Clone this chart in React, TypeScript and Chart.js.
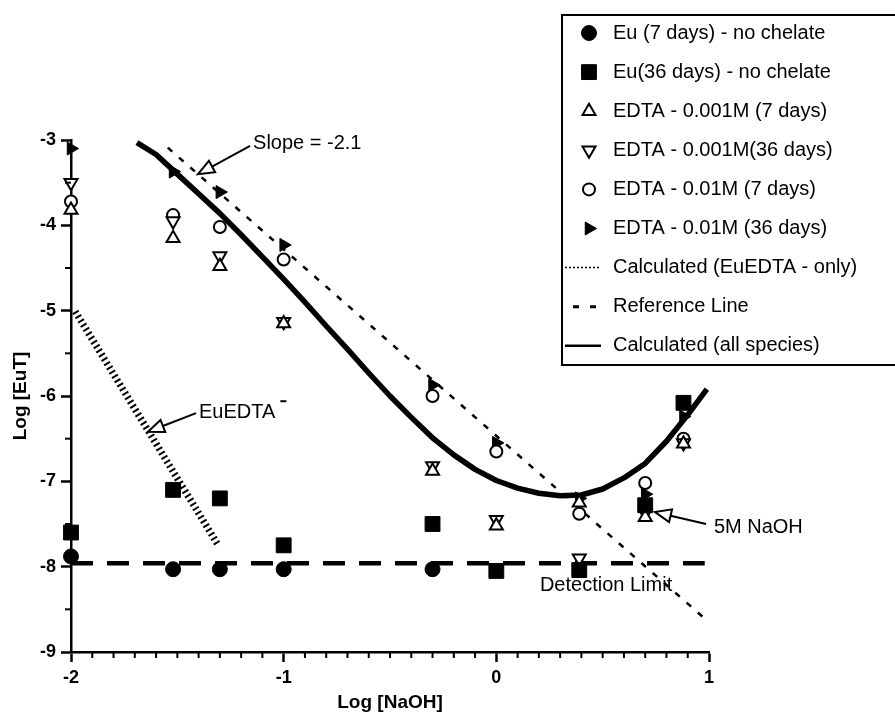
import React, { useEffect, useRef } from 'react';
import { Chart, registerables } from 'chart.js';
import { drawPoint } from 'chart.js/helpers';

Chart.register(...registerables);

const FONT = '"Liberation Sans", Arial, Helvetica, sans-serif';

// ---- axes ----
const xTicks = [-2, -1, 0, 1];
const yTicks = [-9, -8, -7, -6, -5, -4, -3];
const xTitle = 'Log [NaOH]';
const yTitle = 'Log [EuT]';

// ---- measured series (Log [NaOH] vs Log [EuT]) ----
const xNoChelate7 = [-2, -1.52, -1.3, -1, -0.3];
const euNoChelate7 = [-7.88, -8.03, -8.03, -8.03, -8.03];

const xMeasured = [-2, -1.52, -1.3, -1, -0.3, 0, 0.39, 0.7, 0.88];
const euNoChelate36 = [-7.6, -7.1, -7.2, -7.75, -7.5, -8.05, -8.04, -7.28, -6.08];
const edta001Day7 = [-3.82, -4.15, -4.48, -5.15, -6.88, -7.52, -7.25, -7.42, -6.56];
const edta001Day36 = [-3.5, -3.95, -4.36, -5.13, -6.82, -7.45, -7.9, -7.37, -6.55];
const edta01Day7 = [-3.72, -3.88, -4.02, -4.4, -6.0, -6.65, -7.38, -7.02, -6.5];
const edta01Day36 = [-3.1, -3.37, -3.61, -4.23, -5.87, -6.55, -7.2, -7.15, -6.24];

// ---- calculated / reference lines ----
const calcEuEdtaX = [-1.545, 0.99];
const calcEuEdtaY = [-3.09, -8.63];

const euEdtaMinusX = [-1.98, -1.31];
const euEdtaMinusY = [-5.01, -7.74];

const detectionX = [-2, 0.98];
const detectionY = [-7.96, -7.96];

const calcAllX = [-1.69, -1.6, -1.5, -1.4, -1.3, -1.2, -1.1, -1.0, -0.9, -0.8, -0.7, -0.6, -0.5, -0.4, -0.3, -0.2, -0.1, 0.0, 0.1, 0.2, 0.3, 0.4, 0.5, 0.6, 0.7, 0.8, 0.9, 0.99];
const calcAllY = [-3.03, -3.17, -3.4, -3.63, -3.86, -4.11, -4.37, -4.63, -4.9, -5.18, -5.45, -5.73, -6.0, -6.25, -6.49, -6.69, -6.86, -6.99, -7.08, -7.14, -7.17, -7.16, -7.09, -6.96, -6.79, -6.53, -6.22, -5.92];

// ---- legend ----
const legendLabels = [
  'Eu (7 days) - no chelate',
  'Eu(36 days) - no chelate',
  'EDTA - 0.001M (7 days)',
  'EDTA - 0.001M(36 days)',
  'EDTA - 0.01M (7 days)',
  'EDTA - 0.01M (36 days)',
  'Calculated (EuEDTA - only)',
  'Reference Line',
  'Calculated (all species)',
];

const pts = (xs: number[], ys: number[]) => xs.map((x, i) => ({ x, y: ys[i] }));

function marker(label: string, xs: number[], ys: number[], style: string, radius: number, rotation: number, filled: boolean, bw: number) {
  return {
    label,
    data: pts(xs, ys),
    showLine: false,
    clip: false,
    pointStyle: style,
    pointRadius: radius,
    pointHoverRadius: radius,
    pointRotation: rotation,
    pointBackgroundColor: filled ? '#000' : '#fff',
    pointBorderColor: '#000',
    pointBorderWidth: bw,
  };
}

function lineSet(label: string, xs: number[], ys: number[], width: number, dash: number[]) {
  return {
    label,
    data: pts(xs, ys),
    showLine: true,
    clip: false,
    pointRadius: 0,
    pointHoverRadius: 0,
    borderColor: '#000',
    borderWidth: width,
    borderDash: dash,
    borderCapStyle: 'butt',
    borderJoinStyle: 'round',
    tension: 0,
    fill: false,
  };
}

function drawArrow(ctx: CanvasRenderingContext2D, tx: number, ty: number, hx: number, hy: number) {
  const dx = hx - tx, dy = hy - ty;
  const len = Math.hypot(dx, dy);
  const ux = dx / len, uy = dy / len;
  const headLen = 16, halfW = 6.5;
  const bx = hx - ux * headLen, by = hy - uy * headLen;
  ctx.setLineDash([]);
  ctx.lineWidth = 2;
  ctx.strokeStyle = '#000';
  ctx.beginPath();
  ctx.moveTo(tx, ty);
  ctx.lineTo(bx, by);
  ctx.stroke();
  ctx.beginPath();
  ctx.moveTo(hx, hy);
  ctx.lineTo(bx - uy * halfW, by + ux * halfW);
  ctx.lineTo(bx + uy * halfW, by - ux * halfW);
  ctx.closePath();
  ctx.fillStyle = '#fff';
  ctx.fill();
  ctx.stroke();
}

const bgPlugin = {
  id: 'bg',
  beforeDraw(chart: any) {
    const ctx = chart.ctx;
    ctx.save();
    ctx.fillStyle = '#fff';
    ctx.fillRect(0, 0, chart.width, chart.height);
    ctx.restore();
  },
};

const decorPlugin = {
  id: 'decor',
  afterDraw(chart: any) {
    const ctx: CanvasRenderingContext2D = chart.ctx;
    const xs = chart.scales.x;
    const ys = chart.scales.y;
    const { left, bottom } = chart.chartArea;
    const X = (v: number) => xs.getPixelForValue(v);
    const Y = (v: number) => ys.getPixelForValue(v);
    ctx.save();

    // minor ticks
    ctx.strokeStyle = '#000';
    ctx.lineWidth = 2;
    ctx.setLineDash([]);
    for (let i = xTicks[0] * 10; i <= xTicks[xTicks.length - 1] * 10; i++) {
      if (i % 10 === 0) continue;
      const px = X(i / 10);
      ctx.beginPath();
      ctx.moveTo(px, bottom);
      ctx.lineTo(px, bottom + 6);
      ctx.stroke();
    }
    for (let k = 0; k < yTicks.length - 1; k++) {
      const py = Y(yTicks[k] + 0.5);
      ctx.beginPath();
      ctx.moveTo(left, py);
      ctx.lineTo(left - 6, py);
      ctx.stroke();
    }

    // annotations
    ctx.fillStyle = '#000';
    ctx.font = `20px ${FONT}`;
    ctx.textBaseline = 'middle';
    ctx.textAlign = 'left';
    ctx.fillText('Slope = -2.1', X(-1.144), Y(-3.035));
    drawArrow(ctx, X(-1.158), Y(-3.07), X(-1.403), Y(-3.4));

    ctx.fillStyle = '#000';
    ctx.fillText('EuEDTA', X(-1.398), Y(-6.19));
    const w = ctx.measureText('EuEDTA').width;
    ctx.fillRect(X(-1.398) + w + 5, Y(-6.19) - 12, 6, 2);
    drawArrow(ctx, X(-1.412), Y(-6.2), X(-1.638), Y(-6.42));

    ctx.fillStyle = '#000';
    ctx.fillText('5M NaOH', X(1.023), Y(-7.535));
    drawArrow(ctx, X(0.986), Y(-7.5), X(0.746), Y(-7.36));

    ctx.fillStyle = '#000';
    ctx.fillText('Detection Limit', X(0.205), Y(-8.22));

    // legend
    const lx = 562, ly = 15, lw = 340, lh = 350;
    ctx.setLineDash([]);
    ctx.lineWidth = 2;
    ctx.strokeStyle = '#000';
    ctx.strokeRect(lx, ly, lw, lh);
    const rowY0 = 33, rowH = 39.1;
    chart.data.datasets.forEach((ds: any, i: number) => {
      if (i >= legendLabels.length) return;
      const y = rowY0 + i * rowH;
      if (!ds.showLine) {
        ctx.fillStyle = ds.pointBackgroundColor;
        ctx.strokeStyle = ds.pointBorderColor;
        ctx.lineWidth = ds.pointBorderWidth;
        ctx.setLineDash([]);
        drawPoint(ctx, { pointStyle: ds.pointStyle, radius: ds.pointRadius, rotation: ds.pointRotation, borderWidth: ds.pointBorderWidth }, 589, y);
      } else {
        ctx.strokeStyle = '#000';
        if (i === 6) {
          ctx.lineWidth = 1.5;
          ctx.setLineDash([2, 2]);
          ctx.beginPath(); ctx.moveTo(565, y); ctx.lineTo(601, y); ctx.stroke();
        } else if (i === 7) {
          ctx.lineWidth = 3;
          ctx.setLineDash([6, 11]);
          ctx.beginPath(); ctx.moveTo(573, y); ctx.lineTo(600, y); ctx.stroke();
        } else {
          ctx.lineWidth = 2.5;
          ctx.setLineDash([]);
          ctx.beginPath(); ctx.moveTo(565, y); ctx.lineTo(601, y); ctx.stroke();
        }
      }
      ctx.setLineDash([]);
      ctx.fillStyle = '#000';
      ctx.font = `20px ${FONT}`;
      ctx.textAlign = 'left';
      ctx.textBaseline = 'middle';
      ctx.fillText(legendLabels[i], 613, y);
    });
    ctx.restore();
  },
};

export default function App() {
  const ref = useRef<HTMLCanvasElement>(null);
  useEffect(() => {
    const canvas = ref.current;
    if (!canvas) return;
    const datasets: any[] = [
      marker(legendLabels[0], xNoChelate7, euNoChelate7, 'circle', 7.5, 0, true, 1),
      marker(legendLabels[1], xMeasured, euNoChelate36, 'rect', 10.5, 0, true, 1),
      marker(legendLabels[2], xMeasured, edta001Day7, 'triangle', 7.5, 0, false, 2),
      marker(legendLabels[3], xMeasured, edta001Day36, 'triangle', 7.5, 180, false, 2),
      marker(legendLabels[4], xMeasured, edta01Day7, 'circle', 6, 0, false, 2),
      marker(legendLabels[5], xMeasured, edta01Day36, 'triangle', 7.5, 90, true, 1),
      lineSet(legendLabels[6], calcEuEdtaX, calcEuEdtaY, 2.5, [6, 9]),
      lineSet(legendLabels[7], detectionX, detectionY, 4.5, [22, 14]),
      lineSet(legendLabels[8], calcAllX, calcAllY, 5.5, []),
      lineSet('EuEDTA-', euEdtaMinusX, euEdtaMinusY, 7, [2, 3]),
    ];
    const chart = new Chart(canvas, {
      type: 'scatter',
      data: { datasets },
      options: {
        animation: false,
        responsive: false,
        devicePixelRatio: 1,
        events: [],
        layout: { padding: { top: 140, right: 186, left: 0, bottom: 0 } },
        plugins: { legend: { display: false }, tooltip: { enabled: false } },
        scales: {
          x: {
            type: 'linear',
            min: xTicks[0],
            max: xTicks[xTicks.length - 1],
            afterFit: (s: any) => { s.height = 65; },
            afterBuildTicks: (s: any) => { s.ticks = xTicks.map((v) => ({ value: v })); },
            ticks: {
              color: '#000',
              font: { family: FONT, size: 18, weight: 'bold' },
              padding: 5,
              maxRotation: 0,
              callback: (v: any) => String(v),
            },
            grid: { display: true, drawOnChartArea: false, drawTicks: true, tickLength: 10, tickColor: '#000', tickWidth: 2.5 },
            border: { display: true, color: '#000', width: 2.5 },
            title: { display: true, text: xTitle, color: '#000', font: { family: FONT, size: 19, weight: 'bold', lineHeight: 1.2 }, padding: { top: 0, bottom: 3 } },
          },
          y: {
            type: 'linear',
            min: yTicks[0],
            max: yTicks[yTicks.length - 1],
            afterFit: (s: any) => { s.width = 71; },
            afterBuildTicks: (s: any) => { s.ticks = yTicks.map((v) => ({ value: v })); },
            ticks: {
              color: '#000',
              font: { family: FONT, size: 18, weight: 'bold' },
              padding: 5,
              callback: (v: any) => String(v),
            },
            grid: { display: true, drawOnChartArea: false, drawTicks: true, tickLength: 10, tickColor: '#000', tickWidth: 2.5 },
            border: { display: true, color: '#000', width: 2.5 },
            title: { display: true, text: yTitle, color: '#000', font: { family: FONT, size: 19, weight: 'bold', lineHeight: 1.2 }, padding: { top: 9, bottom: 0 } },
          },
        },
      } as any,
      plugins: [bgPlugin, decorPlugin],
    });
    return () => chart.destroy();
  }, []);
  return (
    <div style={{ position: 'absolute', left: 0, top: 0, width: 895, height: 717, background: '#fff' }}>
      <canvas ref={ref} width={895} height={717} style={{ display: 'block', width: 895, height: 717 }} />
    </div>
  );
}
